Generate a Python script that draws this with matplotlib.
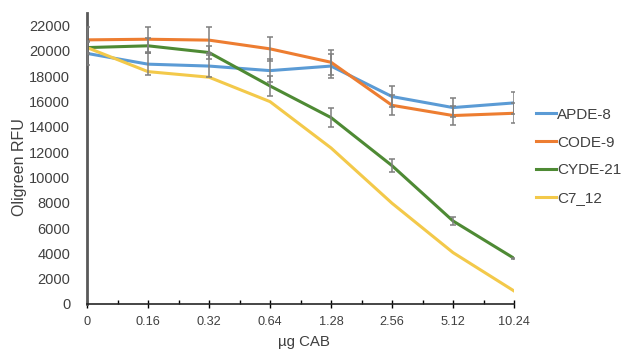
import numpy as np
import matplotlib.pyplot as plt

plt.rcParams['font.family'] = ['Liberation Sans', 'DejaVu Sans']

doses = ['0', '0.16', '0.32', '0.64', '1.28', '2.56', '5.12', '10.24']

apde8 = [19800, 18950, 18800, 18440, 18800, 16390, 15520, 15890]
apde8_err = [900, 850, 900, 900, 960, 800, 730, 840]

code9 = [20870, 20920, 20850, 20160, 19100, 15700, 14890, 15070]
code9_err = [1000, 1000, 1030, 970, 980, 800, 740, 790]

cyde21 = [20260, 20400, 19870, 17230, 14730, 10930, 6560, 3610]
cyde21_err = [500, 600, 500, 800, 750, 500, 330, 60]

c7_12 = [20260, 18360, 17920, 15990, 12330, 7960, 4060, 1030]

series = [
    ('APDE-8', apde8, apde8_err, '#5B9BD5'),
    ('CODE-9', code9, code9_err, '#ED7D31'),
    ('CYDE-21', cyde21, cyde21_err, '#4E8A34'),
    ('C7_12', c7_12, None, '#F3C94A'),
]

fig = plt.figure(figsize=(6.22, 3.49), dpi=100)
ax = fig.add_axes([0.1399, 0.129, 0.6865, 0.834])

x = np.arange(len(doses))
for name, vals, err, col in series:
    ax.plot(x, vals, color=col, lw=2.2, label=name, zorder=2)
for name, vals, err, col in series:
    if err is not None:
        ax.errorbar(x, vals, yerr=err, fmt='none', ecolor='#7f7f7f',
                    elinewidth=1.1, capsize=2.2, capthick=1.1, zorder=3)

ax.set_xlim(0, len(doses) - 1)
ax.set_ylim(0, 23000)
ax.set_xticks(x)
ax.set_xticklabels(doses, fontsize=9.2, color='#404040')
ax.set_xticks(x[:-1] + 0.5, minor=True)
ax.set_yticks(np.arange(0, 22001, 2000))
ax.tick_params(axis='y', length=0, labelsize=10.5, labelcolor='#404040', pad=12)
ax.tick_params(axis='x', which='major', direction='inout', length=6, width=1, pad=6)
ax.tick_params(axis='x', which='minor', direction='in', length=3, width=1)

for s in ['top', 'right']:
    ax.spines[s].set_visible(False)
ax.spines['left'].set_color('#595959')
ax.spines['left'].set_linewidth(2)
ax.spines['bottom'].set_color('#262626')
ax.spines['bottom'].set_linewidth(1.2)

ax.set_ylabel('Oligreen RFU', fontsize=11.5, color='#404040')
ax.yaxis.set_label_coords(-0.14, 0.47)
ax.set_xlabel('µg CAB', fontsize=10.8, color='#404040')
ax.xaxis.set_label_coords(0.508, -0.105)

ax.legend(loc='center left', bbox_to_anchor=(1.0515, 0.507), frameon=False,
          fontsize=11, handlelength=1.3, handletextpad=0.1, labelspacing=0.9,
          borderpad=0, borderaxespad=0, labelcolor='#404040')

plt.savefig('out.png', dpi=100)
